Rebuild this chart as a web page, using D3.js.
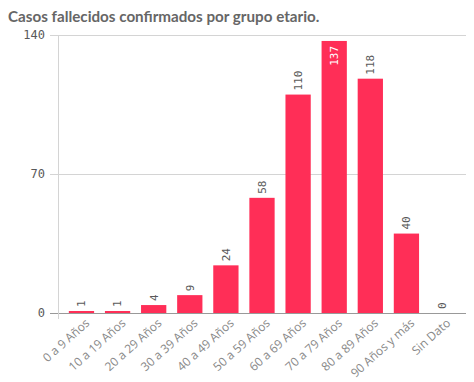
<!DOCTYPE html>
<html>
<head>
<meta charset="utf-8">
<script src="https://cdn.jsdelivr.net/npm/d3@7"></script>
<style>
  body { margin: 0; background: #fff; }
  svg text { fill: #595959; }
</style>
</head>
<body>
<div id="chart"></div>
<script>
const categories = ["0 a 9 Años", "10 a 19 Años", "20 a 29 Años", "30 a 39 Años", "40 a 49 Años",
    "50 a 59 Años", "60 a 69 Años", "70 a 79 Años", "80 a 89 Años", "90 Años y más", "Sin Dato"];
const values = [1, 1, 4, 9, 24, 58, 110, 137, 118, 40, 0];
const yTicks = [0, 70, 140];

const width = 474, height = 382;
const margin = { top: 35, right: 8, bottom: 69, left: 58 };

const svg = d3.select("#chart")
    .append("svg")
    .attr("width", width)
    .attr("height", height);

svg.append("text")
    .attr("x", 8)
    .attr("y", 22)
    .attr("font-family", "Lato, 'Open Sans', sans-serif")
    .attr("font-weight", "bold")
    .attr("font-size", "15.2px")
    .style("fill", "#666")
    .text("Casos fallecidos confirmados por grupo etario.");

const x = d3.scaleBand()
    .domain(categories)
    .range([margin.left, width - margin.right])
    .padding(0.3);

const y = d3.scaleLinear()
    .domain([0, 140])
    .range([height - margin.bottom, margin.top]);

// grid lines
svg.append("g")
    .selectAll("line")
    .data(yTicks)
    .enter()
    .append("line")
    .attr("x1", margin.left - 8)
    .attr("x2", width - margin.right)
    .attr("y1", d => y(d) + 0.5)
    .attr("y2", d => y(d) + 0.5)
    .attr("stroke", d => d === 0 ? "#999" : "#d4d4d4");

// y axis line
svg.append("line")
    .attr("x1", margin.left + 0.5)
    .attr("x2", margin.left + 0.5)
    .attr("y1", y(140))
    .attr("y2", y(0) + 6)
    .attr("stroke", "#d4d4d4");

svg.append("g")
    .selectAll("text")
    .data(yTicks)
    .enter()
    .append("text")
    .attr("x", margin.left - 13)
    .attr("y", d => y(d))
    .attr("dy", "0.35em")
    .attr("text-anchor", "end")
    .attr("font-family", "'DejaVu Sans Mono', monospace")
    .attr("font-size", "12px")
    .text(d => d);

// bars
svg.append("g")
    .selectAll("rect")
    .data(values)
    .enter()
    .append("rect")
    .attr("x", (d, i) => x(categories[i]))
    .attr("y", d => y(d))
    .attr("width", x.bandwidth())
    .attr("height", d => y(0) - y(d))
    .attr("fill", "#ff2e57");

// value labels (inside the bar when there is no room above)
const inside = d => y(d) - margin.top < 30;
svg.append("g")
    .selectAll("text")
    .data(values)
    .enter()
    .append("text")
    .attr("transform", (d, i) => {
        const cx = x(categories[i]) + x.bandwidth() / 2;
        const ty = inside(d) ? y(d) + 5 : y(d) - 4;
        return `translate(${cx},${ty}) rotate(-90)`;
    })
    .attr("text-anchor", d => inside(d) ? "end" : "start")
    .attr("dy", "0.35em")
    .attr("font-family", "'DejaVu Sans Mono', monospace")
    .attr("font-size", "11px")
    .style("fill", d => inside(d) ? "#fff" : "#595959")
    .text(d => d);

// x labels
svg.append("g")
    .selectAll("text")
    .data(categories)
    .enter()
    .append("text")
    .attr("transform", d => `translate(${x(d) + x.bandwidth() / 2 + 6},${y(0) + 8}) rotate(-42)`)
    .attr("text-anchor", "end")
    .attr("dy", "0.35em")
    .attr("font-family", "'Open Sans', sans-serif")
    .attr("font-size", "12px")
    .style("fill", "#888")
    .text(d => d);
</script>
</body>
</html>
